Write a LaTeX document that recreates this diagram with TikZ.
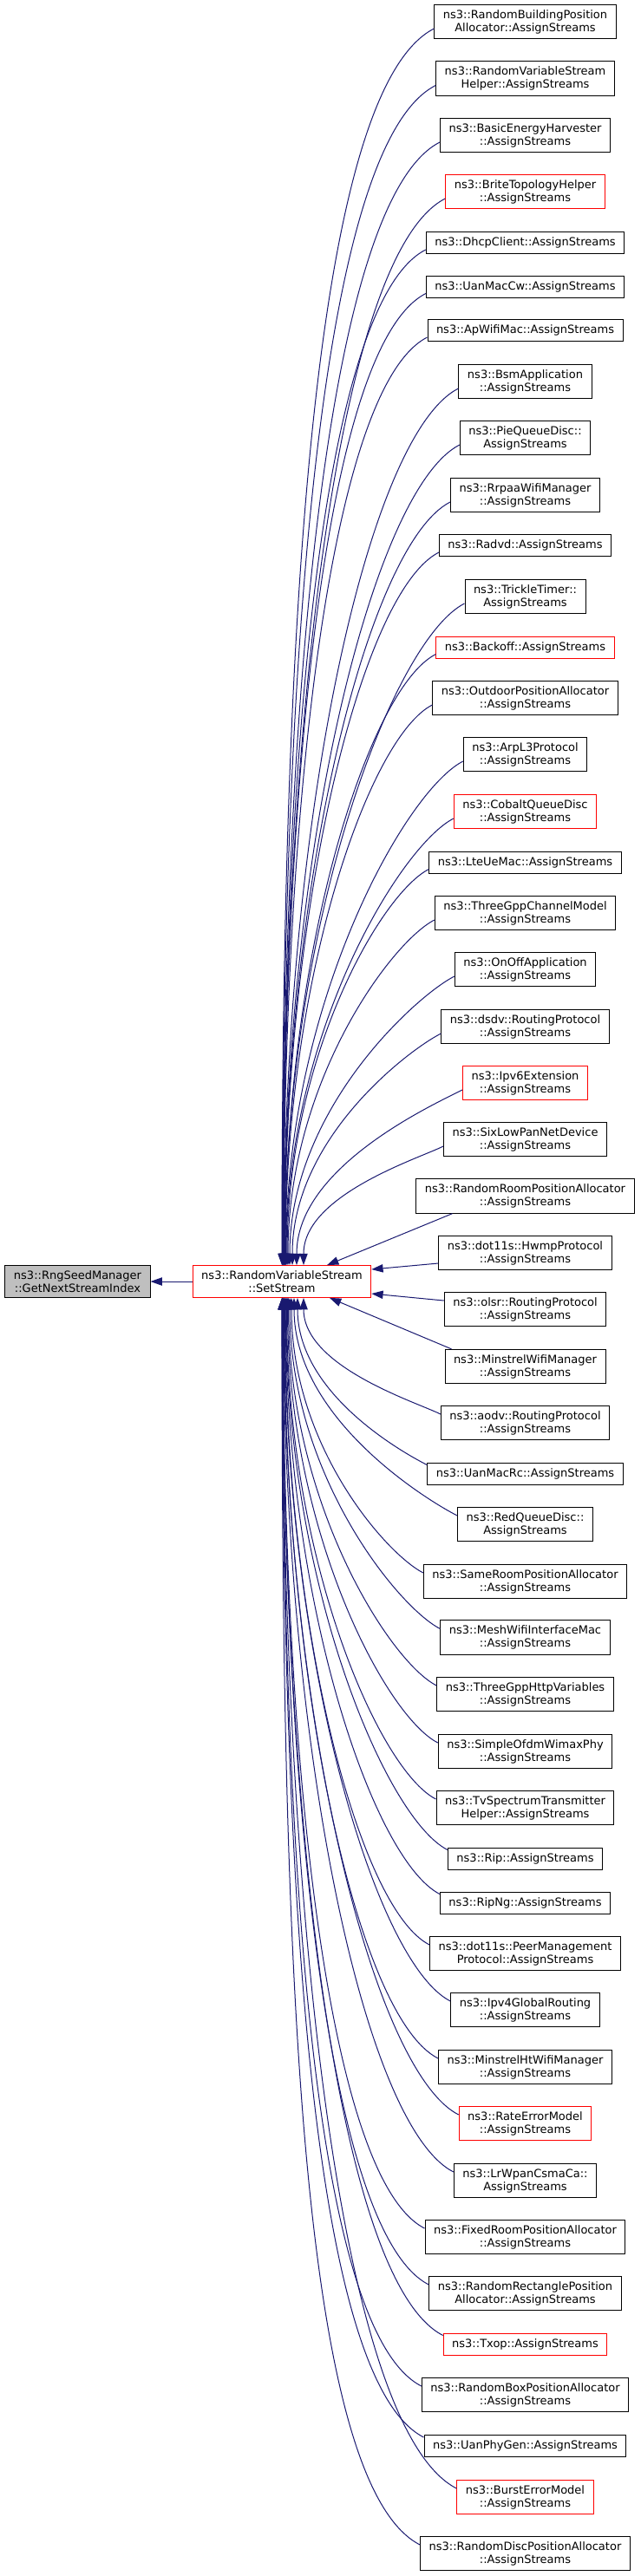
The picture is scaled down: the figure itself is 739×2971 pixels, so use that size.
\documentclass[tikz,border=0pt]{standalone}
\usepackage{fontspec}
\setmainfont{DejaVu Sans}
\usetikzlibrary{arrows.meta}
\definecolor{edgeblue}{RGB}{25,25,112}
\definecolor{rootgray}{RGB}{191,191,191}
\tikzset{
    func/.style={rectangle, draw=black, line width=0.75pt, fill=white, align=center,
        inner xsep=7.5pt, inner ysep=4.4pt, minimum height=18.75pt,
        font=\fontsize{9.75pt}{11.25pt}\selectfont},
    func red/.style={func, draw=red},
    root func/.style={func, fill=rootgray},
    call/.style={edgeblue, line width=0.75pt, -{Triangle[length=10pt, width=7pt]}}
}

\begin{document}
\begin{tikzpicture}[x=0.75pt, y=0.75pt]
    \useasboundingbox (0,0) rectangle (739,-2971);

    % Callee chain
    \node[root func] (root) at (89.5,-1478) {ns3::RngSeedManager\\::GetNextStreamIndex};
    \node[func red] (set) at (325,-1478) {ns3::RandomVariableStream\\::SetStream};
    \draw[call] (set) -- (root);

    % Callers - one column
    \foreach \i/\y/\s/\txt in {
        1/25/func/ns3::RandomBuildingPosition\\Allocator::AssignStreams,
        2/90.5/func/ns3::RandomVariableStream\\Helper::AssignStreams,
        3/156/func/ns3::BasicEnergyHarvester\\::AssignStreams,
        4/221/func red/ns3::BriteTopologyHelper\\::AssignStreams,
        5/280/func/ns3::DhcpClient::AssignStreams,
        6/330.5/func/ns3::UanMacCw::AssignStreams,
        7/381/func/ns3::ApWifiMac::AssignStreams,
        8/440/func/ns3::BsmApplication\\::AssignStreams,
        9/505/func/ns3::PieQueueDisc::\\AssignStreams,
        10/571/func/ns3::RrpaaWifiManager\\::AssignStreams,
        11/629/func/ns3::Radvd::AssignStreams,
        12/688/func/ns3::TrickleTimer::\\AssignStreams,
        13/746.5/func red/ns3::Backoff::AssignStreams,
        14/805/func/ns3::OutdoorPositionAllocator\\::AssignStreams,
        15/870/func/ns3::ArpL3Protocol\\::AssignStreams,
        16/936/func red/ns3::CobaltQueueDisc\\::AssignStreams,
        17/994.5/func/ns3::LteUeMac::AssignStreams,
        18/1053/func/ns3::ThreeGppChannelModel\\::AssignStreams,
        19/1118/func/ns3::OnOffApplication\\::AssignStreams,
        20/1184/func/ns3::dsdv::RoutingProtocol\\::AssignStreams,
        21/1249/func red/ns3::Ipv6Extension\\::AssignStreams,
        22/1314/func/ns3::SixLowPanNetDevice\\::AssignStreams,
        23/1379.5/func/ns3::RandomRoomPositionAllocator\\::AssignStreams,
        24/1445/func/ns3::dot11s::HwmpProtocol\\::AssignStreams,
        25/1510/func/ns3::olsr::RoutingProtocol\\::AssignStreams,
        26/1576/func/ns3::MinstrelWifiManager\\::AssignStreams,
        27/1641/func/ns3::aodv::RoutingProtocol\\::AssignStreams,
        28/1699.5/func/ns3::UanMacRc::AssignStreams,
        29/1758/func/ns3::RedQueueDisc::\\AssignStreams,
        30/1824/func/ns3::SameRoomPositionAllocator\\::AssignStreams,
        31/1888.5/func/ns3::MeshWifiInterfaceMac\\::AssignStreams,
        32/1954/func/ns3::ThreeGppHttpVariables\\::AssignStreams,
        33/2020/func/ns3::SimpleOfdmWimaxPhy\\::AssignStreams,
        34/2085/func/ns3::TvSpectrumTransmitter\\Helper::AssignStreams,
        35/2143.5/func/ns3::Rip::AssignStreams,
        36/2194.5/func/ns3::RipNg::AssignStreams,
        37/2253/func/ns3::dot11s::PeerManagement\\Protocol::AssignStreams,
        38/2318/func/ns3::Ipv4GlobalRouting\\::AssignStreams,
        39/2384/func/ns3::MinstrelHtWifiManager\\::AssignStreams,
        40/2449/func red/ns3::RateErrorModel\\::AssignStreams,
        41/2515/func/ns3::LrWpanCsmaCa::\\AssignStreams,
        42/2580/func/ns3::FixedRoomPositionAllocator\\::AssignStreams,
        43/2645/func/ns3::RandomRectanglePosition\\Allocator::AssignStreams,
        44/2703.5/func red/ns3::Txop::AssignStreams,
        45/2762/func/ns3::RandomBoxPositionAllocator\\::AssignStreams,
        46/2821/func/ns3::UanPhyGen::AssignStreams,
        47/2880/func red/ns3::BurstErrorModel\\::AssignStreams,
        48/2945/func/ns3::RandomDiscPositionAllocator\\::AssignStreams} {
        \node[\s] (n\i) at (605.5,-\y) {\txt};
    }

    % Callers above - into the top of SetStream
    \foreach \i/\ex in {1/0, 2/0.3, 3/0.6, 4/0.9, 5/1.2, 6/1.5, 7/1.8, 8/2.1, 9/2.4,
        10/2.7, 11/3, 12/3.3, 13/3.6, 14/4, 15/4.5, 16/5, 17/6, 18/7, 19/9,
        20/12, 21/17, 22/25} {
        \pgfpointanchor{n\i}{west}\pgfgetlastxy{\wx}{\wy}
        \pgfmathsetmacro\gap{\wy+1087.5}
        \pgfmathsetmacro\lo{0.1*\gap+12}
        \pgfmathsetmacro\li{0.5*\gap+10}
        \pgfmathsetmacro\sx{0.75*\ex}
        \draw[call] ([yshift=-6pt]n\i.west) .. controls +(207:\lo pt) and +(0pt,\li pt) .. ([xshift=\sx pt]set.north);
    }

    % Callers next to SetStream
    \draw[call] ([xshift=31.5pt]n23.south west) -- ([xshift=39pt]set.north);
    \draw[call] ([yshift=-9pt]n24.west) -- ([yshift=10.5pt]set.east);
    \draw[call] ([yshift=7.5pt]n25.west) -- ([yshift=-10.5pt]set.east);
    \draw[call] ([xshift=6pt]n26.north west) -- ([xshift=41.25pt]set.south);

    % Callers below - into the bottom of SetStream
    \foreach \i/\ex in {27/25, 28/18, 29/14, 30/11, 31/9, 32/7.5, 33/6.5, 34/5.5,
        35/4.8, 36/4.2, 37/3.6, 38/3, 39/2.5, 40/2, 41/1.6, 42/1.2, 43/0.9,
        44/0.6, 45/0.4, 46/0.2, 47/0.1, 48/0} {
        \pgfpointanchor{n\i}{west}\pgfgetlastxy{\wx}{\wy}
        \pgfmathsetmacro\gap{-1131-(\wy)}
        \pgfmathsetmacro\lo{0.1*\gap+12}
        \pgfmathsetmacro\li{0.5*\gap+10}
        \pgfmathsetmacro\sx{0.75*\ex}
        \draw[call] ([yshift=7.5pt]n\i.west) .. controls +(153:\lo pt) and +(0pt,-\li pt) .. ([xshift=\sx pt]set.south);
    }
\end{tikzpicture}
\end{document}
